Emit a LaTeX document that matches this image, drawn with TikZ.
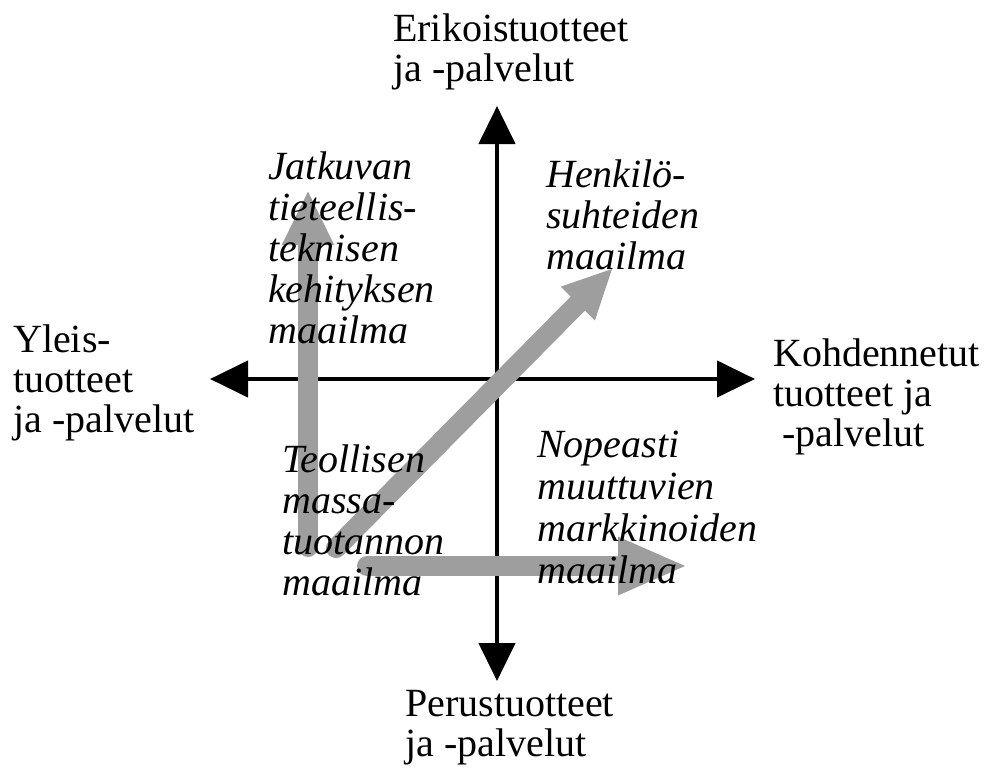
\documentclass[tikz,border=0pt]{standalone}
\usepackage{fontspec}
\setmainfont{Liberation Serif}
\usetikzlibrary{arrows.meta}
\definecolor{trendgray}{RGB}{158,158,158}
\begin{document}
\begin{tikzpicture}[x=1pt,y=-1pt,
  axis/.style={line width=4.5pt,
    {Triangle[length=38pt,width=36pt]}-{Triangle[length=38pt,width=36pt]}},
  trend/.style={line width=20pt, draw=trendgray, line cap=round},
  label/.style={inner sep=0pt, anchor=north west, align=left,
    font=\fontsize{40}{40}\selectfont},
  world/.style={label, font=\fontsize{40}{41}\selectfont\itshape}]
\useasboundingbox (0,0) rectangle (985,769);

% axis end points
\coordinate (W) at (210,379);
\coordinate (E) at (755,379);
\coordinate (N) at (497,106);
\coordinate (S) at (497,681);

% axes
\draw[axis] (W) -- (E);
\draw[axis] (S) -- (N);

% development paths from the mass-production corner
\coordinate (upS) at (308,547);
\coordinate (upT) at (308,190);
\coordinate (diS) at (336,548);
\coordinate (diT) at (613,268);
\coordinate (riS) at (367,566);
\coordinate (riT) at (688,566);
\draw[trend, -{Triangle[length=55pt,width=48pt]}] (upS) -- (upT);
\draw[trend, -{Triangle[length=50pt,width=44pt]}] (diS) -- (diT);
\draw[trend, -{Triangle[length=70pt,width=53pt]}] (riS) -- (riT);

% axis labels
\node[label] (top) at (393,14) {Erikoistuotteet\\ja -palvelut};
\node[label] (left) at (13,325) {Yleis-\\tuotteet\\ja -palvelut};
\node[label] (right) at (773,339) {Kohdennetut\\tuotteet ja\\\hspace{9pt}-palvelut};
\node[label] (bottom) at (405,690) {Perustuotteet\\ja -palvelut};

% quadrant labels
\node[world] (tech) at (268,152) {Jatkuvan\\tieteellis-\\teknisen\\kehityksen\\maailma};
\node[world] (pers) at (546,160) {Henkilö-\\suhteiden\\maailma};
\node[world] (mass) at (282,445) {Teollisen\\massa-\\tuotannon\\maailma};
\node[world, font=\fontsize{40}{42}\selectfont\itshape] (fast) at (537,431) {Nopeasti\\muuttuvien\\markkinoiden\\maailma};
\end{tikzpicture}
\end{document}
